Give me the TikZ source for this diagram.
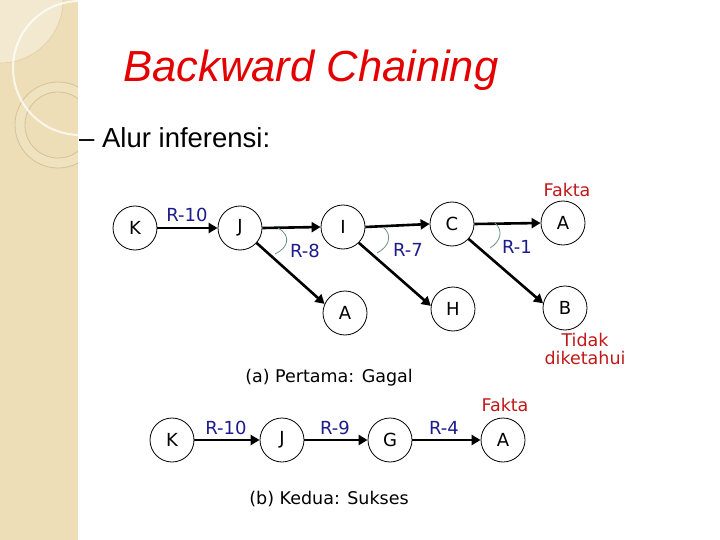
\documentclass[tikz,border=0pt]{standalone}
\usepackage{fontspec}
\usetikzlibrary{arrows.meta}
\newfontfamily\diagfont{DejaVu Sans}
\newfontfamily\arialfont{Liberation Sans}
\definecolor{beige}{RGB}{237,222,183}
\definecolor{tan}{RGB}{214,194,150}
\definecolor{navylbl}{RGB}{28,28,140}
\definecolor{redlbl}{RGB}{192,24,24}
\definecolor{titlered}{RGB}{228,0,0}
\definecolor{arcc}{RGB}{110,145,136}
\begin{document}
\begin{tikzpicture}[x=1pt,y=-1pt,
  nd/.style={circle, draw, line width=0.8pt, minimum size=44pt, inner sep=0pt, font=\diagfont\fontsize{18}{20}\selectfont},
  arr/.style={line width=2.6pt, -{Triangle[length=9pt,width=10pt]}},
  lbl/.style={text=navylbl, font=\diagfont\fontsize{18}{20}\selectfont, inner sep=0pt},
  fakta/.style={text=redlbl, font=\diagfont\fontsize{17.5}{18}\selectfont, inner sep=0pt, align=center},
  capt/.style={font=\diagfont\fontsize{17.5}{20}\selectfont, inner sep=0pt},
  anglemark/.style={draw=arcc, line width=0.8pt}]
\path[use as bounding box] (0,0) rectangle (720,540);
% left decorative strip
\fill[beige] (0,0) rectangle (78,540);
\begin{scope}
  \clip (0,0) rectangle (78,540);
  \fill[white, opacity=0.35] (0,0) circle (63);
  \draw[tan, opacity=0.6, line width=0.6pt] (0,0) circle (63);
  \fill[white, opacity=0.12, even odd rule] (58,125) circle (43) (58,125) circle (33);
  \draw[tan, line width=0.8pt] (58,125) circle (43);
  \draw[tan, line width=0.8pt] (58,125) circle (33);
  \draw[white, opacity=0.75, line width=2pt] (80,68) circle (67);
\end{scope}
% title
\node[anchor=base, text=titlered, font=\arialfont\itshape\fontsize{43.5}{48}\selectfont, inner sep=0pt] (title) at (311,82) {Backward Chaining};
\node[anchor=base west, font=\arialfont\fontsize{27.5}{30}\selectfont, inner sep=0pt] (sub) at (79,148) {– Alur inferensi:};
% (a) top diagram
\node[nd] (K) at (135,228) {K};
\node[nd] (J) at (240,228) {J};
\node[nd] (I) at (343,227) {I};
\node[nd] (C) at (452,224) {C};
\node[nd] (A1) at (563,223) {A};
\node[nd] (A2) at (345,313) {A};
\node[nd] (H) at (453,309) {H};
\node[nd] (B) at (565,308) {B};
\draw[arr] (K.east) -- (J.west);
\draw[arr] (J.east) -- (I.west);
\draw[arr] (I.east) -- (C.west);
\draw[arr] (C.east) -- (A1.west);
\draw[arr] (J.-42) -- (A2.156);
\draw[arr] (I.-45) -- (H.172);
\draw[arr] (C.-42) -- (B.168);
\draw[anglemark] ([shift={(38,0)}]J.center) .. controls ([shift={(52,8)}]J.center) and ([shift={(48,20)}]J.center) .. ([shift={(35,26)}]J.center);
\draw[anglemark] ([shift={(40,0)}]I.center) .. controls ([shift={(50,8)}]I.center) and ([shift={(46,20)}]I.center) .. ([shift={(34,26)}]I.center);
\draw[anglemark] ([shift={(43,-1)}]C.center) .. controls ([shift={(52,7)}]C.center) and ([shift={(48,18)}]C.center) .. ([shift={(38,24)}]C.center);
\node[lbl] (r10a) at (187,215) {R-10};
\node[lbl] (r8) at (305,251) {R-8};
\node[lbl] (r7) at (408,250) {R-7};
\node[lbl] (r1) at (517,247) {R-1};
\node[fakta] (fa1) at (567,190) {Fakta};
\node[fakta] (td) at (585,349) {Tidak\\diketahui};
\node[capt] (capa) at (329,378) {(a) Pertama: Gagal};
% (b) bottom diagram
\node[nd] (K2) at (172,440) {K};
\node[nd] (J2) at (282,440) {J};
\node[nd] (G2) at (390,440) {G};
\node[nd] (A3) at (503,440) {A};
\draw[arr] (K2.east) -- (J2.west);
\draw[arr] (J2.east) -- (G2.west);
\draw[arr] (G2.east) -- (A3.west);
\node[lbl] (r10b) at (226,428) {R-10};
\node[lbl] (r9) at (335,428) {R-9};
\node[lbl] (r4) at (444,428) {R-4};
\node[fakta] (fa2) at (505,405) {Fakta};
\node[capt] (capb) at (329,499) {(b) Kedua: Sukses};
\end{tikzpicture}
\end{document}
